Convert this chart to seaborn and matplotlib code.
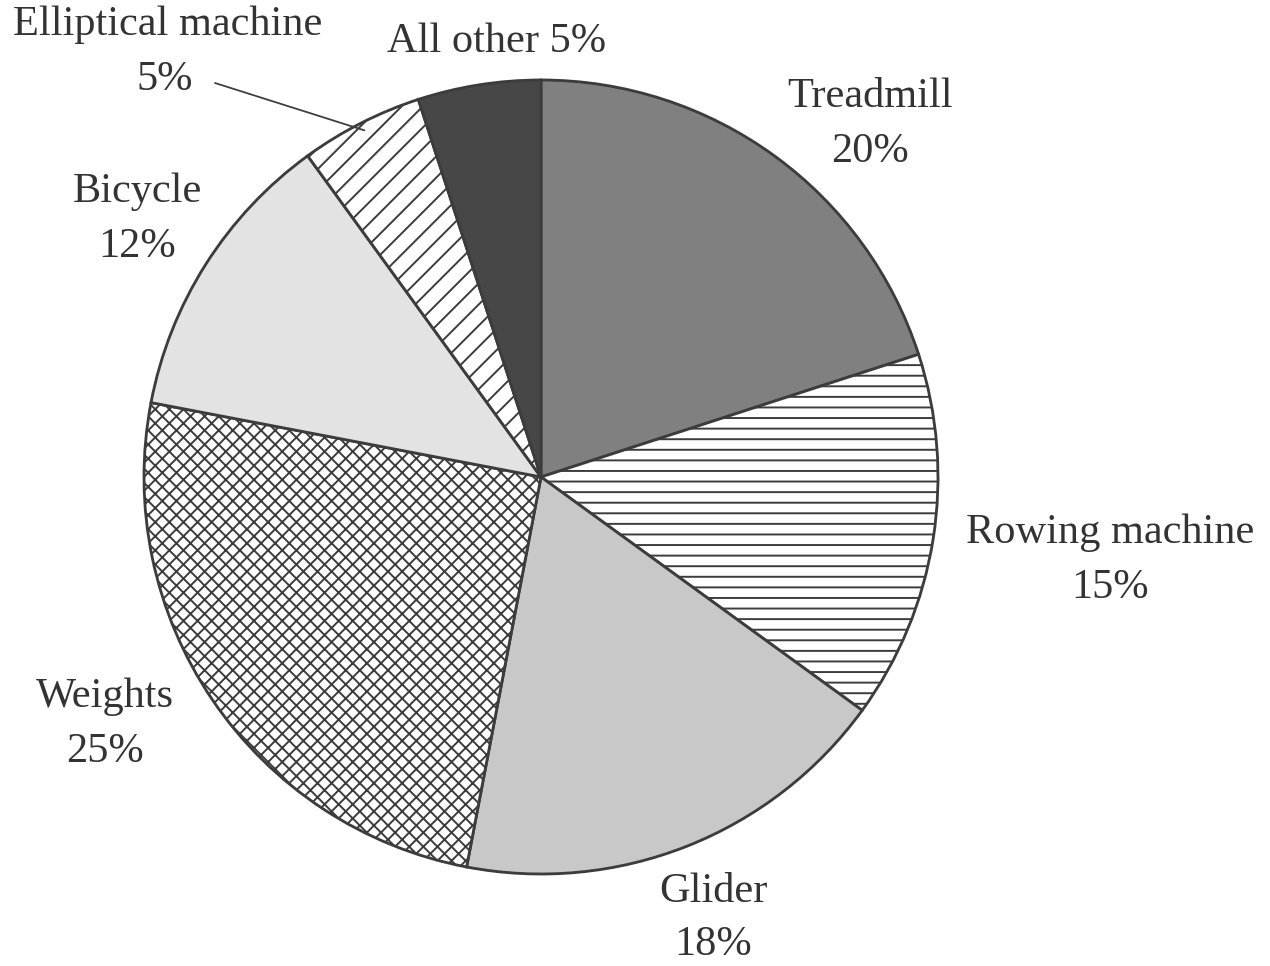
import numpy as np
import pandas as pd
import matplotlib
matplotlib.use("Agg")
import matplotlib.pyplot as plt
import seaborn as sns

# Share of home exercise equipment usage
categories = ["Treadmill", "Rowing machine", "Glider", "Weights", "Bicycle",
              "Elliptical machine", "All other"]
shares = [20, 15, 18, 25, 12, 5, 5]

df = pd.DataFrame({"equipment": categories, "share": shares})

sns.set_theme(style="white")
plt.rcParams["font.family"] = ["Liberation Serif", "DejaVu Serif"]
plt.rcParams["hatch.linewidth"] = 1.1

edge = "#3c3c3c"
fills = ["#808080", "white", "#c8c8c8", "white", "#e3e3e3", "white", "#474747"]
hatches = [None, "--", None, "xxx", None, "//", None]

W, H, DPI = 1270, 966, 127
fig = plt.figure(figsize=(W / DPI, H / DPI), dpi=DPI)
fig.patch.set_facecolor("white")

cx, cy, r = 541, 477, 397
ax = fig.add_axes([(cx - r) / W, (H - cy - r) / H, 2 * r / W, 2 * r / H])

wedges, _ = ax.pie(df["share"], startangle=90, counterclock=False, radius=1,
                   colors=fills,
                   wedgeprops=dict(edgecolor=edge, linewidth=1.6))
for w, h in zip(wedges, hatches):
    if h:
        w.set_hatch(h)

ax.set_xlim(-1, 1)
ax.set_ylim(-1, 1)
ax.set_aspect("equal")
ax.axis("off")

txt_color = "#333333"
fs = 24

def label(px, py, s, **kw):
    fig.text(px / W, 1 - py / H, s, ha="center", va="center", fontsize=fs,
             color=txt_color, **kw)

pct = [f"{v}%" for v in df["share"]]
label(870, 97, df["equipment"][0]); label(870, 152, pct[0])
label(1110, 533, df["equipment"][1]); label(1110, 588, pct[1])
label(713, 892, df["equipment"][2]); label(713, 945, pct[2])
label(105, 697, df["equipment"][3]); label(105, 752, pct[3])
label(137, 192, df["equipment"][4]); label(137, 247, pct[4])
label(168, 25, df["equipment"][5]); label(165, 80, pct[5])
label(497, 42, f"{df['equipment'][6]} {pct[6]}")

# Leader line from the elliptical-machine label to its wedge
ew = wedges[5]
mid = np.deg2rad((ew.theta1 + ew.theta2) / 2)
tip = (np.cos(mid) * 0.98, np.sin(mid) * 0.98)
start = ((215 - cx) / r, (cy - 83) / r)
ax.plot([start[0], tip[0]], [start[1], tip[1]], color=edge, lw=1.0,
        clip_on=False)

fig.savefig("out.png", dpi=DPI, facecolor="white")
